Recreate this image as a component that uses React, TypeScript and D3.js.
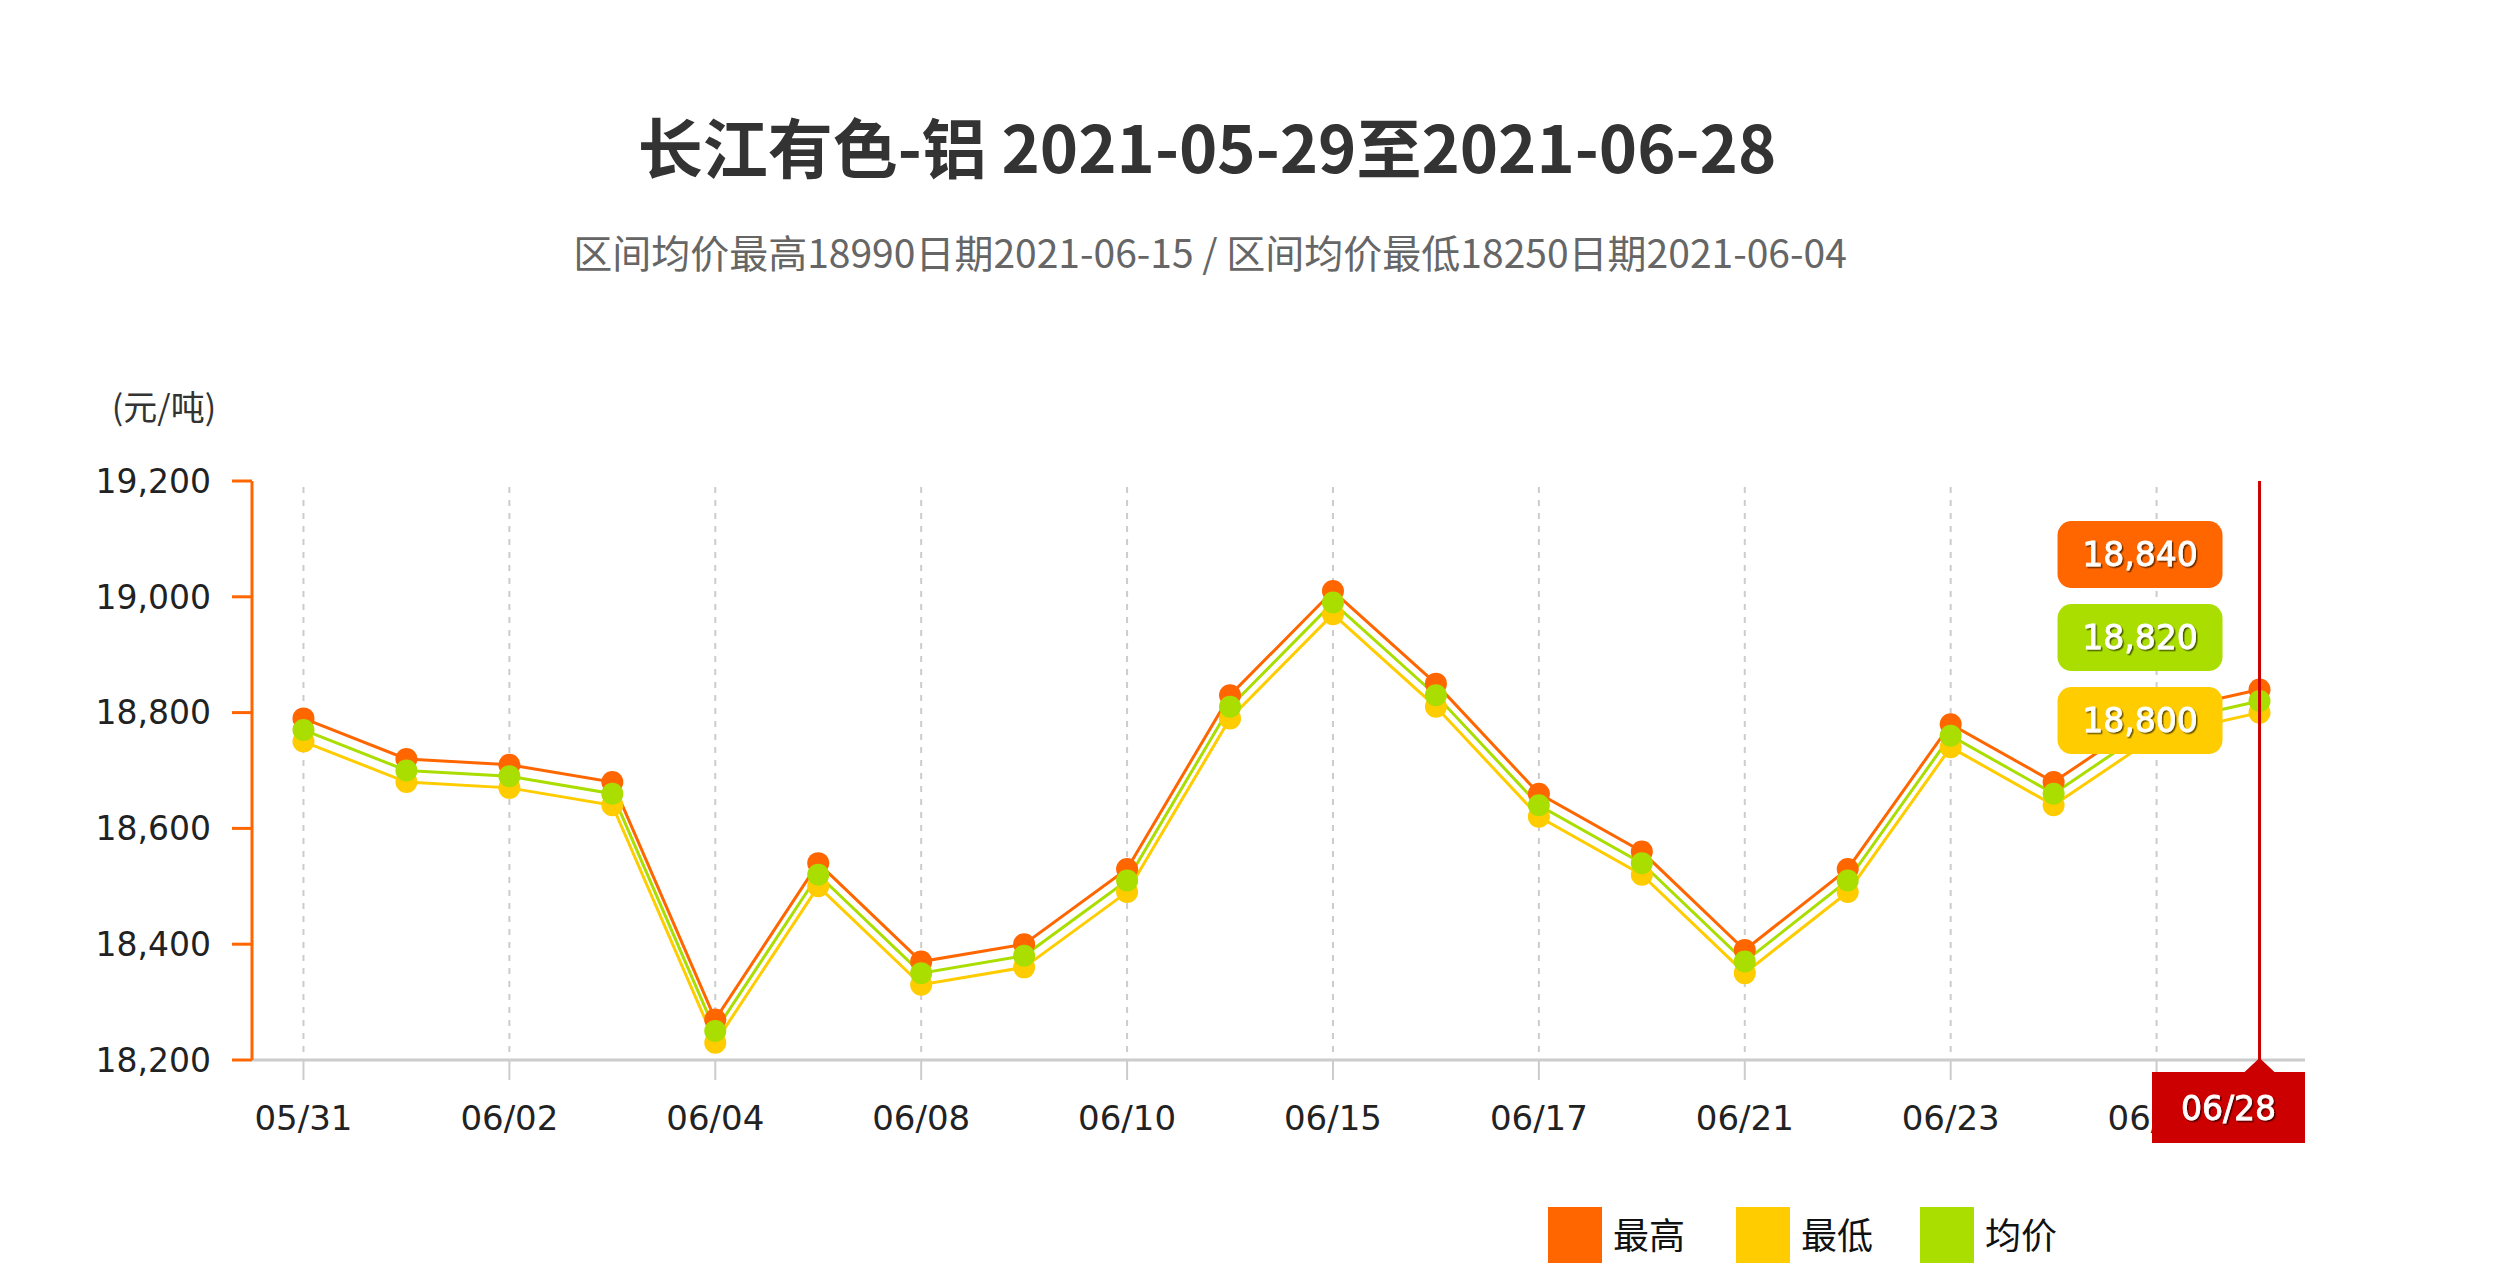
import React from 'react';
import * as d3 from 'd3';

const dates = ['05/31', '06/01', '06/02', '06/03', '06/04', '06/07', '06/08', '06/09', '06/10', '06/11',
  '06/15', '06/16', '06/17', '06/18', '06/21', '06/22', '06/23', '06/24', '06/25', '06/28'];
const highValues = [18790, 18720, 18710, 18680, 18270, 18540, 18370, 18400, 18530, 18830,
  19010, 18850, 18660, 18560, 18390, 18530, 18780, 18680, 18800, 18840];
const lowValues = [18750, 18680, 18670, 18640, 18230, 18500, 18330, 18360, 18490, 18790,
  18970, 18810, 18620, 18520, 18350, 18490, 18740, 18640, 18760, 18800];
const avgValues = [18770, 18700, 18690, 18660, 18250, 18520, 18350, 18380, 18510, 18810,
  18990, 18830, 18640, 18540, 18370, 18510, 18760, 18660, 18780, 18820];
const yTicks = [18200, 18400, 18600, 18800, 19000, 19200];
const labelDates = ['05/31', '06/02', '06/04', '06/08', '06/10', '06/15', '06/17', '06/21', '06/23', '06/25'];

const series = [
  { name: '最高', color: '#FF6600', values: highValues },
  { name: '最低', color: '#FFCC00', values: lowValues },
  { name: '均价', color: '#AADD00', values: avgValues },
];

const title = '长江有色-铝 2021-05-29至2021-06-28';
const subtitle = '区间均价最高18990日期2021-06-15 / 区间均价最低18250日期2021-06-04';
const unit = '(元/吨)';

const W = 2513;
const H = 1280;
const left = 252;
const right = 2311;
const top = 481;
const bottom = 1060;

const cjk = '"Noto Sans CJK SC", "Noto Sans", sans-serif';
const num = '"DejaVu Sans", Verdana, sans-serif';

export default function App() {
  const x = d3.scaleBand<string>().domain(dates).range([left, right]);
  const cx = (d: string) => (x(d) ?? 0) + x.bandwidth() / 2;
  const y = d3.scaleLinear().domain([18200, 19200]).range([bottom, top]);
  const fmt = d3.format(',');

  const line = d3.line<number>()
    .x((_, i) => cx(dates[i]))
    .y(v => y(v));

  const last = dates.length - 1;
  const hx = cx(dates[last]);

  // tooltip boxes, sorted by value, stacked upward from the lowest one
  const tips = series
    .map(s => ({ color: s.color, value: s.values[last] }))
    .sort((a, b) => a.value - b.value);
  const tipBase = y(tips[0].value) + 8;
  const boxW = 165;
  const boxH = 67;
  const gap = 83;

  // bottom date badge, clamped to the axis end
  const badgeW = 153;
  const badgeX = Math.min(hx - badgeW / 2, right - 6 - badgeW);

  return (
    <div style={{ position: 'absolute', left: 0, top: 0 }}>
      <svg width={W} height={H} style={{ display: 'block', background: '#fff' }}>
        <defs>
          <filter id="tshadow" x="-10%" y="-20%" width="130%" height="150%">
            <feDropShadow dx={1.5} dy={1.5} stdDeviation={0.6} floodColor="#000" floodOpacity={0.6} />
          </filter>
        </defs>

        <text x={1207} y={173} textAnchor="middle" fontFamily={cjk} fontWeight="bold" fontSize={65} fill="#333">
          {title}
        </text>
        <text x={1210} y={268} textAnchor="middle" fontFamily={cjk} fontSize={39} fill="#666">
          {subtitle}
        </text>
        <text x={164} y={420} textAnchor="middle" fontFamily={cjk} fontSize={34} fill="#333">
          {unit}
        </text>

        {/* vertical dashed grid */}
        {labelDates.map(d => (
          <line key={'g' + d} x1={cx(d)} x2={cx(d)} y1={top + 6} y2={bottom}
            stroke="#ccc" strokeWidth={2} strokeDasharray="6,7" />
        ))}

        {/* x axis */}
        <line x1={left} x2={right - 6} y1={bottom} y2={bottom} stroke="#ccc" strokeWidth={3} />
        {labelDates.map(d => (
          <g key={'x' + d}>
            <line x1={cx(d)} x2={cx(d)} y1={bottom} y2={bottom + 20} stroke="#ccc" strokeWidth={2} />
            <text x={cx(d)} y={1130} textAnchor="middle" fontFamily={num} fontSize={34} fill="#222">{d}</text>
          </g>
        ))}

        {/* y axis */}
        <line x1={left} x2={left} y1={top} y2={bottom} stroke="#FF6600" strokeWidth={3} />
        {yTicks.map(t => (
          <g key={'y' + t}>
            <line x1={left - 20} x2={left} y1={y(t)} y2={y(t)} stroke="#FF6600" strokeWidth={3} />
            <text x={211} y={y(t)} dy="0.36em" textAnchor="end" fontFamily={num} fontSize={33} fill="#222">{fmt(t)}</text>
          </g>
        ))}

        {/* lines */}
        {series.map(s => (
          <path key={'l' + s.name} d={line(s.values) ?? ''} fill="none" stroke={s.color} strokeWidth={3} />
        ))}
        {series.map(s => (
          <g key={'m' + s.name}>
            {s.values.map((v, i) => (
              <circle key={i} cx={cx(dates[i])} cy={y(v)} r={11} fill={s.color} />
            ))}
          </g>
        ))}

        {/* crosshair */}
        <line x1={hx} x2={hx} y1={top} y2={bottom} stroke="#CC0000" strokeWidth={3} />

        {tips.map((t, i) => {
          const cy = tipBase - i * gap;
          const bx = hx - 37 - boxW;
          return (
            <g key={'t' + i}>
              <rect x={bx} y={cy - boxH / 2} width={boxW} height={boxH} rx={14} fill={t.color} />
              <text x={bx + boxW / 2} y={cy} dy="0.36em" textAnchor="middle" fontFamily={num}
                fontSize={33} fill="#fff" stroke="#fff" strokeWidth={0.8} filter="url(#tshadow)">{fmt(t.value)}</text>
            </g>
          );
        })}

        {/* date badge */}
        <path d={`M${hx},${bottom - 2} L${hx + 15},${bottom + 12} L${hx - 15},${bottom + 12} Z`} fill="#CC0000" />
        <rect x={badgeX} y={bottom + 12} width={badgeW} height={71} fill="#CC0000" />
        <text x={badgeX + badgeW / 2} y={bottom + 48} dy="0.36em" textAnchor="middle" fontFamily={num}
          fontSize={33} fill="#fff" stroke="#fff" strokeWidth={0.8} filter="url(#tshadow)">{dates[last]}</text>

        {/* legend */}
        {series.map((s, i) => {
          const lx = [1548, 1736, 1920][i];
          return (
            <g key={'lg' + s.name}>
              <rect x={lx} y={1207} width={54} height={56} fill={s.color} />
              <text x={lx + 65} y={1236} dy="0.36em" fontFamily={cjk} fontSize={36} fill="#111">{s.name}</text>
            </g>
          );
        })}
      </svg>
    </div>
  );
}
